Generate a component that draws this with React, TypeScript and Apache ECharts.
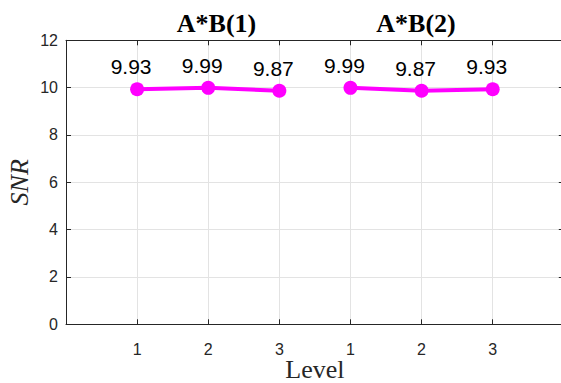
import React, { useEffect, useRef } from "react";
import * as echarts from "echarts";

const groupTitles = ["A*B(1)", "A*B(2)"];
const levelLabels = ["", "1", "2", "3", "1", "2", "3", ""];
const groupA = [9.93, 9.99, 9.87];
const groupB = [9.99, 9.87, 9.93];
const xAxisName = "Level";
const yAxisName = "SNR";

export default function App() {
  const ref = useRef<HTMLDivElement>(null);
  useEffect(() => {
    if (!ref.current) return;
    const chart = echarts.init(ref.current, null, { renderer: "svg" });
    const axisColor = "#262626";
    const gridColor = "#e3e3e3";
    const sans = "Liberation Sans";
    const serif = "Liberation Serif";
    const dataA = groupA.map((v, i) => [i + 1, v]);
    const dataB = groupB.map((v, i) => [i + 4, v]);
    const lineSeries = (data: number[][]) => ({
      type: "line",
      data,
      symbol: "circle",
      symbolSize: 14,
      itemStyle: { color: "#ff00ff" },
      lineStyle: { color: "#ff00ff", width: 4 },
      label: {
        show: true,
        position: "top",
        distance: 5,
        offset: [-6, 0],
        formatter: (p: any) => p.value[1].toFixed(2),
        color: "#000",
        fontFamily: sans,
        fontSize: 21,
      },
    });
    chart.setOption({
      animation: false,
      backgroundColor: "#fff",
      grid: {
        left: 66,
        top: 40.3,
        right: -2.8,
        bottom: 58.7,
        containLabel: false,
        outerBoundsMode: "none",
      },
      graphic: [
        {
          type: "text",
          x: 216.5,
          y: 23,
          style: {
            text: groupTitles[0],
            textAlign: "center",
            textVerticalAlign: "middle",
            font: `bold 26px "${serif}"`,
            fill: "#000",
          },
        },
        {
          type: "text",
          x: 416,
          y: 23,
          style: {
            text: groupTitles[1],
            textAlign: "center",
            textVerticalAlign: "middle",
            font: `bold 26px "${serif}"`,
            fill: "#000",
          },
        },
      ],
      xAxis: [
        {
          type: "value",
          min: 0,
          max: 7,
          interval: 1,
          name: xAxisName,
          nameLocation: "middle",
          nameGap: 31,
          nameMoveOverlap: false,
          nameTextStyle: { fontFamily: serif, fontSize: 26, color: axisColor, lineHeight: 28 },
          axisLine: { show: true, onZero: false, lineStyle: { color: axisColor, width: 1 } },
          axisTick: { show: true, inside: true, length: 5, lineStyle: { color: axisColor } },
          axisLabel: {
            formatter: (v: number) => levelLabels[v] ?? "",
            fontFamily: sans,
            fontSize: 16,
            color: axisColor,
            margin: 17,
          },
          splitLine: { show: true, lineStyle: { color: gridColor, width: 1 } },
        },
        {
          type: "value",
          position: "top",
          min: 0,
          max: 7,
          interval: 1,
          axisLine: { show: true, onZero: false, lineStyle: { color: axisColor, width: 1 } },
          axisTick: { show: true, inside: true, length: 5, lineStyle: { color: axisColor } },
          axisLabel: { show: false },
          splitLine: { show: false },
        },
      ],
      yAxis: [
        {
          type: "value",
          min: 0,
          max: 12,
          interval: 2,
          name: yAxisName,
          nameLocation: "middle",
          nameGap: 34,
          nameMoveOverlap: false,
          nameTextStyle: { fontFamily: serif, fontSize: 26, fontStyle: "italic", color: axisColor },
          axisLine: { show: true, onZero: false, lineStyle: { color: axisColor, width: 1 } },
          axisTick: { show: true, inside: true, length: 5, lineStyle: { color: axisColor } },
          axisLabel: { fontFamily: sans, fontSize: 16, color: axisColor, margin: 8 },
          splitLine: { show: true, lineStyle: { color: gridColor, width: 1 } },
        },
        {
          type: "value",
          position: "right",
          min: 0,
          max: 12,
          interval: 2,
          axisLine: { show: true, onZero: false, lineStyle: { color: axisColor, width: 1 } },
          axisTick: { show: true, inside: true, length: 5, lineStyle: { color: axisColor } },
          axisLabel: { show: false },
          splitLine: { show: false },
        },
      ],
      series: [lineSeries(dataA), lineSeries(dataB)],
    });
    return () => chart.dispose();
  }, []);
  return <div ref={ref} style={{ width: 561, height: 383, position: "fixed", left: 0, top: 0 }} />;
}
